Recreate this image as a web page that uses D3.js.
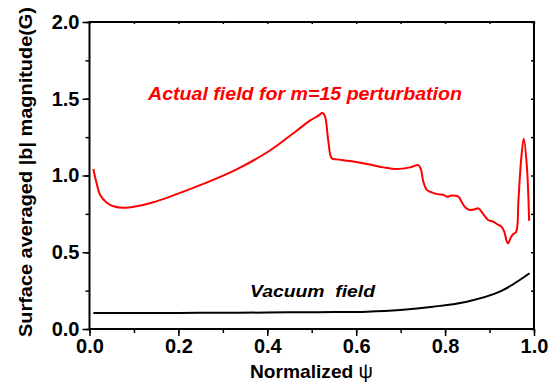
<!DOCTYPE html>
<html><head><meta charset="utf-8">
<script src="https://cdn.jsdelivr.net/npm/d3@7"></script>
<style>
html,body{margin:0;padding:0;background:#fff;}
text{font-family:Arial,"Liberation Sans",sans-serif;}
</style></head>
<body>
<script>
// ---- data ----
const actualPsi = [0.0086,0.016,0.024,0.039,0.054,0.076,0.106,0.144,0.181,0.256,0.331,0.406,0.466,0.496,0.516,0.524,0.530,0.537,0.545,0.556,0.586,0.624,0.661,0.691,0.721,0.740,0.746,0.751,0.759,0.770,0.785,0.796,0.804,0.815,0.830,0.837,0.845,0.856,0.867,0.875,0.882,0.897,0.908,0.920,0.927,0.933,0.939,0.942,0.948,0.953,0.960,0.965,0.971,0.977,0.984,0.989];
const actualB   = [1.042,0.949,0.873,0.823,0.800,0.790,0.800,0.826,0.862,0.945,1.040,1.163,1.292,1.357,1.392,1.409,1.383,1.231,1.112,1.105,1.094,1.075,1.053,1.042,1.053,1.068,1.036,0.960,0.906,0.890,0.877,0.875,0.862,0.869,0.862,0.829,0.793,0.775,0.780,0.786,0.764,0.710,0.699,0.678,0.667,0.634,0.569,0.558,0.597,0.617,0.634,0.840,1.101,1.240,1.057,0.705];
const vacuumPsi = [0.0086,0.1,0.2,0.3,0.4,0.474,0.55,0.624,0.699,0.773,0.849,0.923,0.99];
const vacuumB   = [0.105,0.105,0.105,0.106,0.107,0.109,0.110,0.113,0.124,0.145,0.178,0.243,0.363];
const xTicks = [0.0,0.2,0.4,0.6,0.8,1.0];
const yTicks = [0.0,0.5,1.0,1.5,2.0];

const W=553,H=384;
const L=89.5,R=534,T=22,B=329;
const svg=d3.select("body").append("svg").attr("width",W).attr("height",H);
const x=d3.scaleLinear().domain([0,1]).range([L,R]);
const y=d3.scaleLinear().domain([0,2]).range([B,T]);

const axStyle=g=>{g.selectAll("path").attr("stroke","#000").attr("stroke-width",2);
  g.selectAll("line").attr("stroke","#000").attr("stroke-width",1.5);};
// minor ticks
svg.append("g").attr("transform",`translate(0,${B})`)
  .call(d3.axisBottom(x).tickValues(d3.range(0,1.01,0.1)).tickSize(4).tickFormat(""))
  .call(axStyle).select("path").remove();
svg.append("g").attr("transform",`translate(${L},0)`)
  .call(d3.axisLeft(y).tickValues(d3.range(0,2.01,0.25)).tickSize(4).tickFormat(""))
  .call(axStyle).select("path").remove();
svg.append("g").attr("transform",`translate(0,${T})`)
  .call(d3.axisTop(x).tickValues(d3.range(0,1.01,0.1)).tickSize(-2).tickFormat(""))
  .call(axStyle).select("path").remove();
svg.append("g").attr("transform",`translate(${R},0)`)
  .call(d3.axisRight(y).tickValues(d3.range(0,2.01,0.25)).tickSize(-3).tickFormat(""))
  .call(axStyle).select("path").remove();
// major ticks + labels
const gx=svg.append("g").attr("transform",`translate(0,${B})`)
  .call(d3.axisBottom(x).tickValues(xTicks).tickSize(7).tickPadding(3).tickFormat(d3.format(".1f")))
  .call(axStyle);
gx.select("path").remove();
gx.selectAll("text").attr("font-size",20).attr("font-weight","bold").attr("fill","#000")
  .attr("font-family","Arial, Liberation Sans, sans-serif");
const gy=svg.append("g").attr("transform",`translate(${L},0)`)
  .call(d3.axisLeft(y).tickValues(yTicks).tickSize(7).tickPadding(3).tickFormat(d3.format(".1f")))
  .call(axStyle);
gy.select("path").remove();
gy.selectAll("text").attr("font-size",20).attr("font-weight","bold").attr("fill","#000")
  .attr("font-family","Arial, Liberation Sans, sans-serif");

// frame
svg.append("rect").attr("x",L).attr("y",T).attr("width",R-L).attr("height",B-T)
  .attr("fill","none").attr("stroke","#000").attr("stroke-width",2);

// lines
const line=d3.line().x(d=>x(d[0])).y(d=>y(d[1])).curve(d3.curveCatmullRom.alpha(0.5));
svg.append("path").datum(vacuumPsi.map((v,i)=>[v,vacuumB[i]]))
  .attr("d",line).attr("fill","none").attr("stroke","#000").attr("stroke-width",2);
svg.append("path").datum(actualPsi.map((v,i)=>[v,actualB[i]]))
  .attr("d",line).attr("fill","none").attr("stroke","#ff0000").attr("stroke-width",2);

// annotations
svg.append("text").attr("x",148).attr("y",99.5).attr("font-size",19).attr("font-weight","bold")
  .attr("font-style","italic").attr("fill","#ff0000").attr("textLength",314)
  .attr("lengthAdjust","spacingAndGlyphs").text("Actual field for m=15 perturbation");
svg.append("text").attr("x",250).attr("y",297).attr("font-size",17).attr("font-weight","bold")
  .attr("font-style","italic").attr("fill","#000").attr("textLength",125)
  .attr("lengthAdjust","spacingAndGlyphs").style("white-space","pre")
  .text("Vacuum  field");

// axis titles
const xt=svg.append("text").attr("x",250).attr("y",378).attr("font-size",19).attr("font-weight","bold")
  .attr("fill","#000").attr("textLength",123).attr("lengthAdjust","spacingAndGlyphs");
xt.append("tspan").text("Normalized ");
xt.append("tspan").attr("font-weight","normal").attr("font-size",20).text("ψ");
svg.append("text").attr("transform","translate(32,337) rotate(-90)").attr("font-size",19)
  .attr("font-weight","bold").attr("fill","#000").attr("textLength",330)
  .attr("lengthAdjust","spacingAndGlyphs").text("Surface averaged |b| magnitude(G)");
</script>
</body></html>
